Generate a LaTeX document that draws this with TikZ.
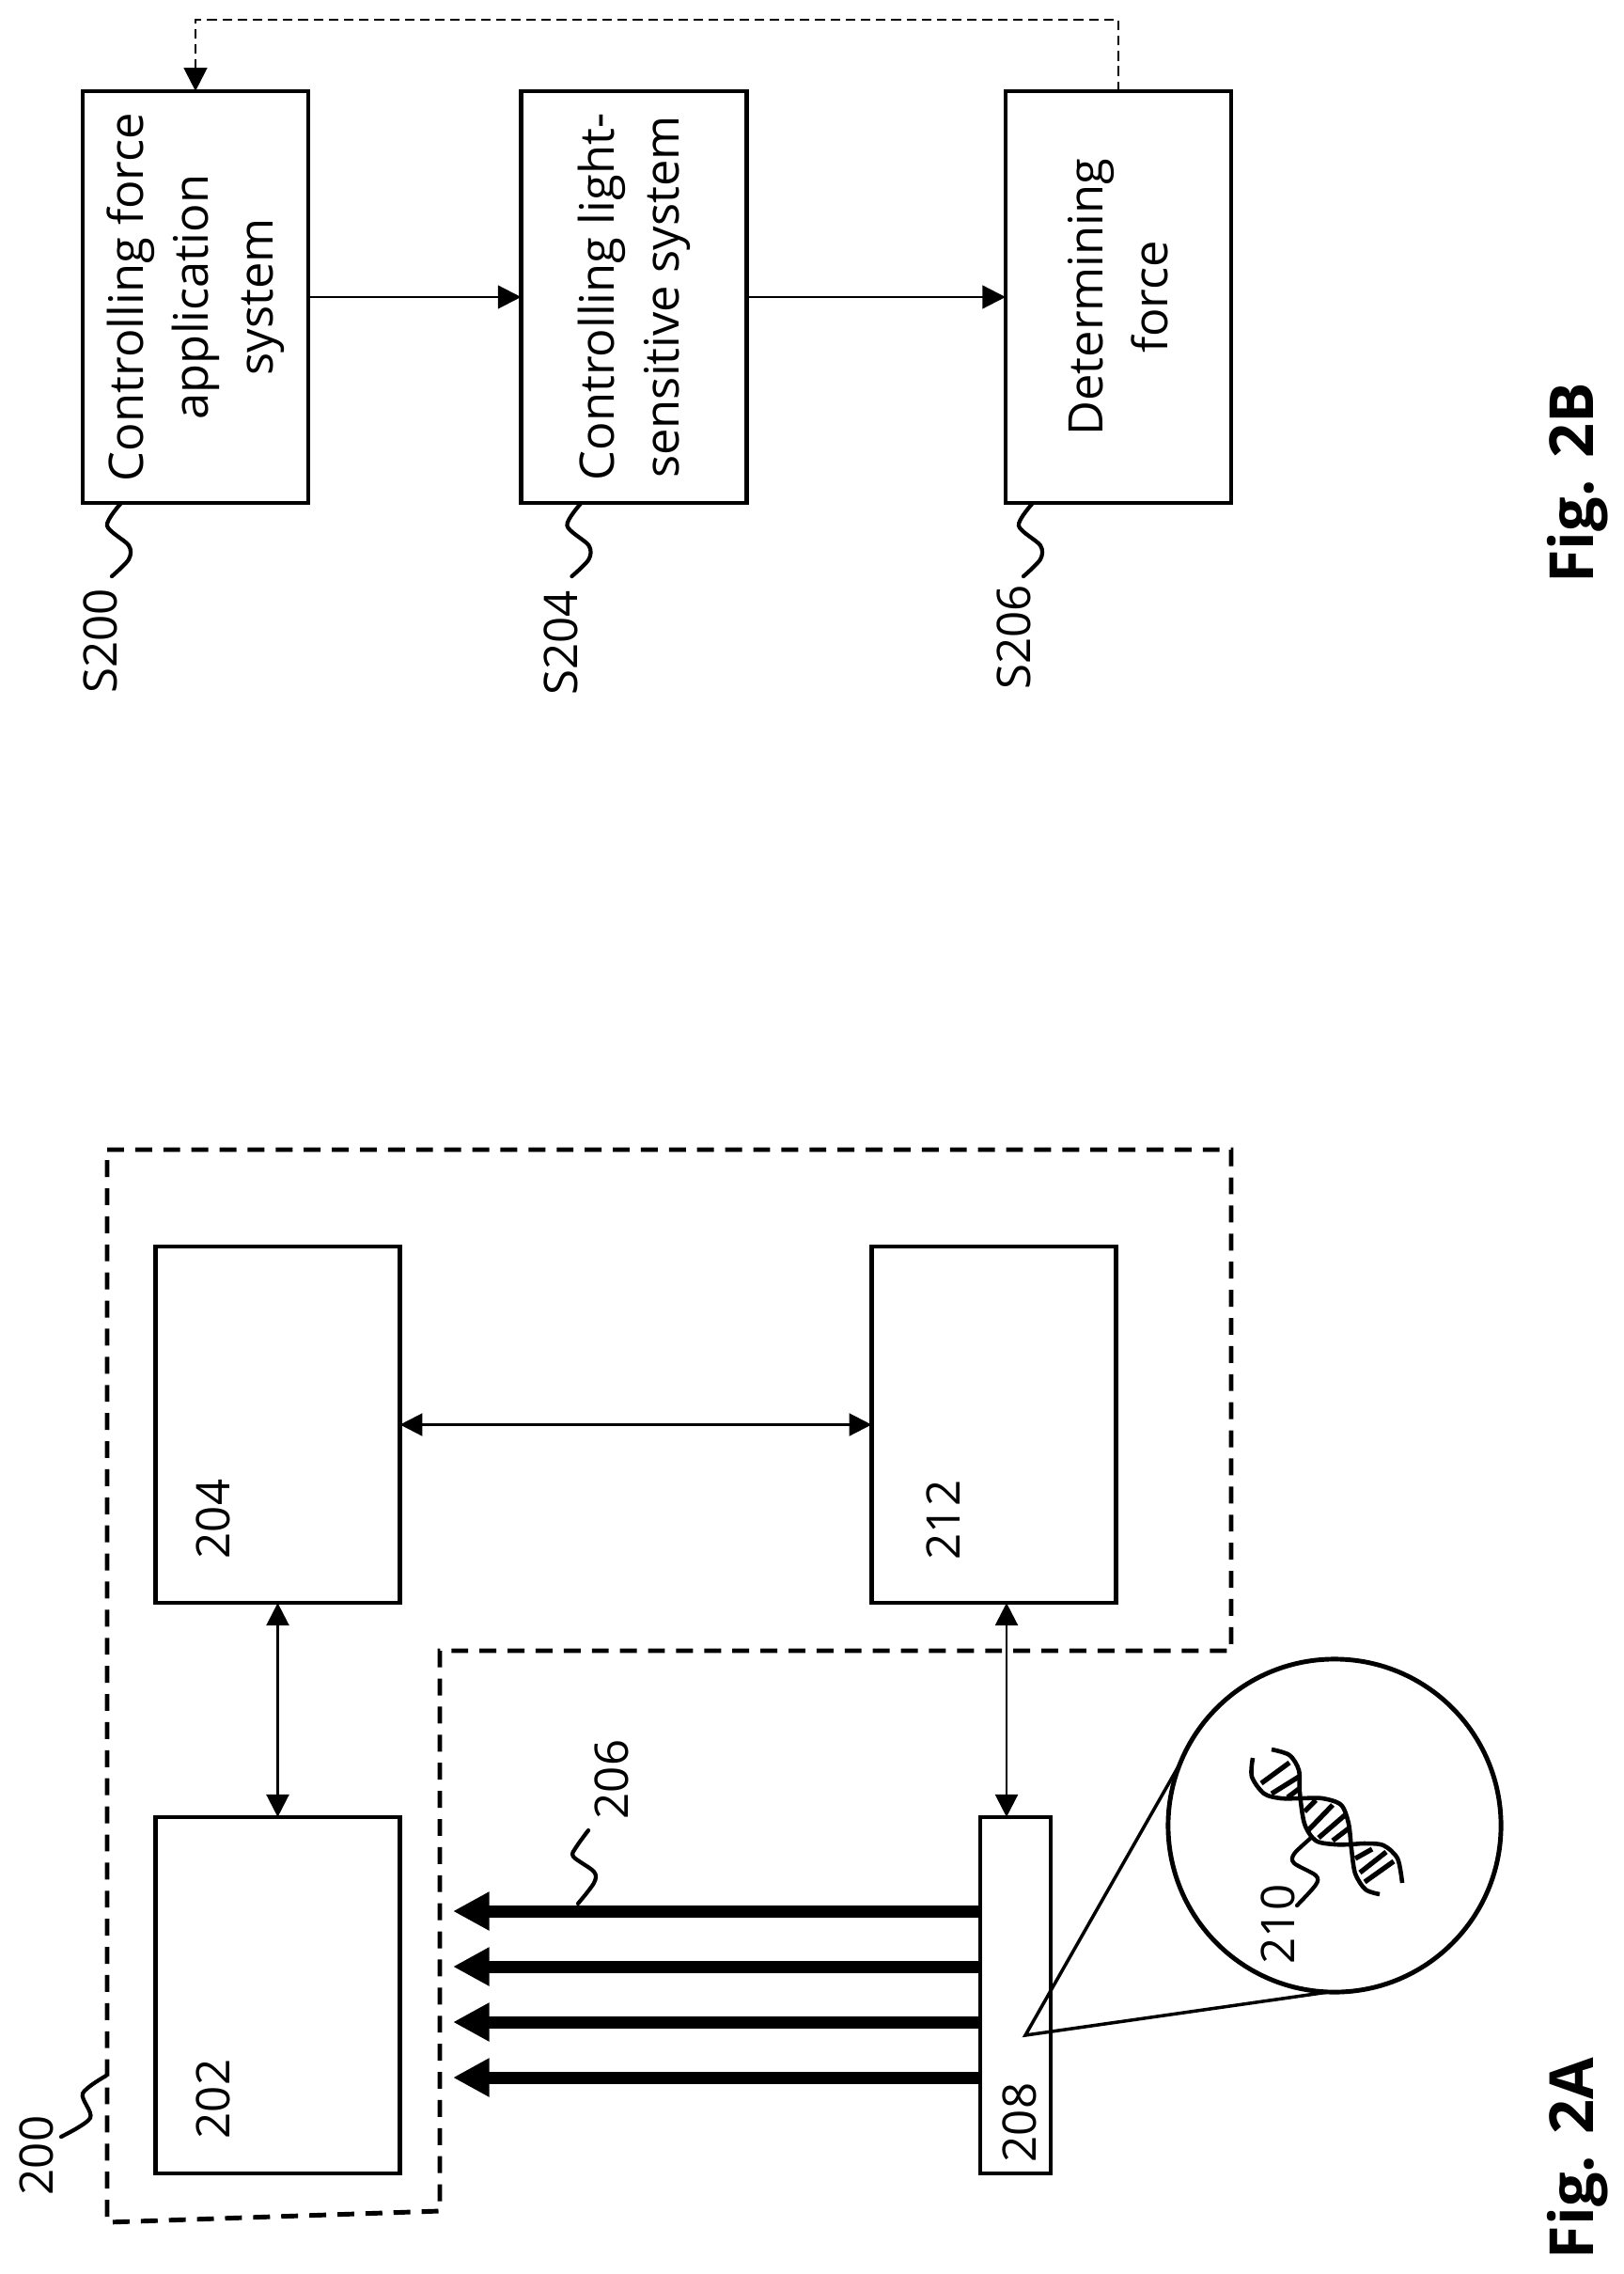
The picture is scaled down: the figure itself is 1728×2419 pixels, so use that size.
\documentclass[tikz,border=0pt]{standalone}
\usepackage{fontspec}
\setmainfont{Open Sans}
\usetikzlibrary{arrows.meta,calc}
\tikzset{
	blockbox/.style={draw,line width=1.3pt,minimum width=2.6cm,minimum height=3.79cm,outer sep=0pt},
	stepbox/.style={draw,line width=1.3pt,rotate=90,align=center,minimum width=4.38cm,minimum height=2.4cm,outer sep=0pt,inner sep=0pt,font=\fontsize{14.4}{19.6}\selectfont},
	reflabel/.style={rotate=90,anchor=base,inner sep=0pt,font=\fontsize{14}{16}\selectfont},
	figlabel/.style={rotate=90,anchor=base,inner sep=0pt,font=\fontsize{18.4}{22}\selectfont\bfseries},
	leader/.style={line width=1.2pt,line cap=round},
	link/.style={line width=.7pt,{Triangle[length=6.8pt,width=6.8pt]}-{Triangle[length=6.8pt,width=6.8pt]}},
	flow/.style={line width=.7pt,-{Triangle[length=7pt,width=7pt]}},
	beam/.style={line width=3.7pt,-{Triangle[length=11pt,width=11pt]}}
}

\begin{document}
\begin{tikzpicture}[x=.01cm,y=-.01cm]
	\useasboundingbox (0,0) rectangle (1728,2419);

	%fig 2b
	\node[stepbox] (s200) at (208,316) {Controlling force\\application\\system};
	\node[stepbox] (s204) at (674.5,316) {Controlling light-\\sensitive system};
	\node[stepbox] (s206) at (1190,316) {Determining\\force};
	\draw[flow] (s200.south)--(s204.north);
	\draw[flow] (s204.south)--(s206.north);
	%feedback
	\coordinate (back) at (700,21);
	\draw[flow,dash pattern=on 2.9pt off 1.7pt] (s206.east) |- (back) -| (s200.east);

	\node[reflabel] (l200) at (124,682) {S200};
	\node[reflabel] (l204) at (614,684) {S204};
	\node[reflabel] (l206) at (1096,678) {S206};
	\foreach \n/\o in {s200/41,s204/64,s206/29}
	{\draw[leader,shift={($(\n.north west)+(\o,0)$)}] plot[smooth] coordinates {(0,0) (-15,24) (8,45) (8,60) (-10,78)};}
	\node[figlabel] (fig2b) at (1695,514) {Fig. 2B};

	%fig 2a
	\draw[line width=1.4pt,dash pattern=on 5.1pt off 3.4pt] (114,1223)--(1310,1223)--(1310,1756)--(468,1756)--(468,2352)--(114,2364)--cycle;
	\node[blockbox] (n202) at (295.5,2122.5) {};
	\node[blockbox] (n204) at (295.5,1515.5) {};
	\node[blockbox] (n212) at (1057.5,1515.5) {};
	\node[blockbox,minimum width=.75cm] (n208) at (1080.5,2122.5) {};
	\node[reflabel] (l202) at (244,2233) {202};
	\node[reflabel] (l204b) at (244,1616) {204};
	\node[reflabel] (l212) at (1021,1617) {212};
	\node[reflabel] (l208) at (1102,2258) {208};
	\node[reflabel] (l200b) at (57,2293) {200};
	\node[reflabel] (l206b) at (668,1893) {206};
	\node[reflabel] (l210) at (1377,2047) {210};

	\draw[link] (n204.south)--(n202.north);
	\draw[link] (n204.east)--(n212.west);
	\coordinate (drop) at (1071,1840);
	\draw[link] (drop |- n212.south)--(drop |- n208.north);

	%light beams
	\coordinate (tip) at (482,2100);
	\foreach \y in {2033,2092,2151,2210}
	{\draw[beam] (n208.west |- 0,\y)--(tip |- 0,\y);}

	\draw[leader] plot[smooth] coordinates {(113,2208) (88,2227) (96,2253) (65,2273)};
	\draw[leader] plot[smooth] coordinates {(615,2025) (632,2003) (632,1991) (610,1975) (613,1965) (626,1947)};

	%magnified sample
	\node[draw,circle,line width=1.4pt,minimum size=3.54cm,outer sep=0pt] (lens) at (1420,1942) {};
	\coordinate (apex) at (1091,2165);
	\draw[line width=1pt] (lens.158)--(apex)--(lens.268);

	%dna
	\draw[line width=1.3pt] plot[smooth] coordinates {(1353,1861) (1372,1867) (1382,1883) (1383,1907) (1388,1940) (1400,1958) (1420,1962) (1437,1962) (1452,1961) (1472,1963) (1487,1977) (1492,2003)};
	\draw[line width=1.3pt] plot[smooth] coordinates {(1333,1870) (1332,1890) (1345,1908) (1363,1913) (1383,1913) (1407,1913) (1427,1920) (1435,1940) (1438,1967) (1442,1993) (1453,2010) (1468,2015)};
	\foreach \a/\b/\c/\d in {1342/1897/1372/1875,1353/1908/1382/1890,1370/1912/1382/1903,1388/1927/1400/1915,1392/1947/1418/1920,1403/1955/1432/1930,1418/1958/1435/1945,1442/1977/1460/1967,1447/1992/1475/1970,1452/2002/1483/1980}
	{\draw[line width=1.5pt] (\a,\b)--(\c,\d);}
	\draw[leader] plot[smooth] coordinates {(1395,1955) (1377,1972) (1377,1982) (1400,1995) (1400,2005) (1380,2027)};

	\node[figlabel] (fig2a) at (1695,2296) {Fig. 2A};
\end{tikzpicture}
\end{document}
